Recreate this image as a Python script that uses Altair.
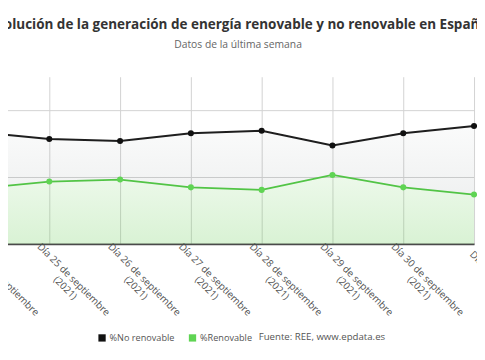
import altair as alt
import pandas as pd

# ---- data ----
dias = ["Día 24 de septiembre", "Día 25 de septiembre", "Día 26 de septiembre",
        "Día 27 de septiembre", "Día 28 de septiembre", "Día 29 de septiembre",
        "Día 30 de septiembre", "Día 1 de octubre"]
anio = "(2021)"
no_renovable = [66.8, 62.7, 61.5, 66.2, 67.7, 58.8, 66.2, 70.5]
renovable = [33.2, 37.3, 38.5, 33.8, 32.3, 41.2, 33.8, 29.5]
series = ["%No renovable", "%Renovable"]
colores_linea = ["#1e1e1e", "#52c446"]
colores_punto = ["#111111", "#5fd453"]

titulo = "Evolución de la generación de energía renovable y no renovable en España"
subtitulo = "Datos de la última semana"
fuente = "Fuente: REE, www.epdata.es"

idx = list(range(len(dias)))
wide = pd.DataFrame({"idx": idx, "no": no_renovable, "re": renovable})
rows = []
for i in idx:
    rows.append({"idx": i, "serie": series[0], "valor": no_renovable[i]})
    rows.append({"idx": i, "serie": series[1], "valor": renovable[i]})
df = pd.DataFrame(rows)

label_list = ",".join("'" + d + "|" + anio + "'" for d in dias)
label_expr = "split([" + label_list + "][datum.value], '|')"

W, H = 477, 170
xscale = alt.Scale(domain=[0, len(dias) - 1], range=[-30, 474], nice=False, zero=False)
yscale = alt.Scale(domain=[0, 100], nice=False)

xaxis = alt.Axis(values=idx, labelExpr=label_expr, title=None, labelAngle=45,
                 labelAlign="center", labelBaseline="middle", labelOffset=24,
                 labelPadding=36, ticks=False, labelOverlap=False, labelBound=False,
                 labelFlush=False, labelFont="Open Sans", labelFontSize=10,
                 labelColor="#555555", labelLineHeight=12,
                 grid=True, gridColor="#d2d2d2", gridWidth=1,
                 domainColor="#4a4a4a", domainWidth=1.8)
yaxis = alt.Axis(values=list(range(0, 101, 10)), labels=False, ticks=False,
                 domain=False, title=None, grid=True, gridColor="#d2d2d2", gridWidth=1)

banda = alt.Chart(wide).mark_area(
    color=alt.Gradient(gradient="linear", x1=1, x2=1, y1=0, y2=1,
                       stops=[alt.GradientStop(color="rgba(60,80,80,0.025)", offset=0),
                              alt.GradientStop(color="rgba(60,80,80,0.08)", offset=1)])
).encode(x=alt.X("idx:Q", scale=xscale, axis=xaxis),
         y=alt.Y("no:Q", scale=yscale, axis=yaxis),
         y2="re:Q")

area_re = alt.Chart(wide).mark_area(
    color=alt.Gradient(gradient="linear", x1=1, x2=1, y1=0, y2=1,
                       stops=[alt.GradientStop(color="rgba(90,200,70,0.11)", offset=0),
                              alt.GradientStop(color="rgba(90,200,70,0.23)", offset=1)])
).encode(x=alt.X("idx:Q", scale=xscale), y=alt.Y("re:Q", scale=yscale))

linea_no = alt.Chart(wide).mark_line(strokeWidth=2, color=colores_linea[0]).encode(
    x=alt.X("idx:Q", scale=xscale), y=alt.Y("no:Q", scale=yscale))
linea_re = alt.Chart(wide).mark_line(strokeWidth=1.8, color=colores_linea[1]).encode(
    x=alt.X("idx:Q", scale=xscale), y=alt.Y("re:Q", scale=yscale))

puntos = alt.Chart(df).mark_point(filled=True, size=38, opacity=1).encode(
    x=alt.X("idx:Q", scale=xscale),
    y=alt.Y("valor:Q", scale=yscale),
    color=alt.Color("serie:N", scale=alt.Scale(domain=series, range=colores_punto),
                    legend=alt.Legend(orient="none", legendX=91, legendY=261,
                                      direction="horizontal", title=None,
                                      symbolType="square", symbolSize=55,
                                      labelFont="Open Sans", labelFontSize=9.3,
                                      labelColor="#555555", columnPadding=13,
                                      padding=0, labelOffset=3)),
)

texto_fuente = alt.Chart(pd.DataFrame({"t": [fuente]})).mark_text(
    align="left", baseline="middle", font="Open Sans", fontSize=9.8, color="#555555"
).encode(text="t:N", x=alt.value(255), y=alt.value(265))

chart = alt.layer(banda, area_re, linea_no, linea_re, puntos, texto_fuente).properties(
    width=W, height=H,
    autosize=alt.AutoSizeParams(type="none"),
    padding={"left": 0, "right": 0, "top": 67, "bottom": 102},
    title=alt.TitleParams(text=titulo, subtitle=subtitulo, anchor="middle",
                          font="Open Sans", fontSize=13.7, fontWeight="bold", color="#333333",
                          subtitleFont="Open Sans", subtitleFontSize=10.5,
                          subtitleColor="#666666", subtitlePadding=8, offset=27, dx=-4.5),
).configure_view(stroke=None)

chart.save("out.html", embed_options={"renderer": "svg", "actions": False})
